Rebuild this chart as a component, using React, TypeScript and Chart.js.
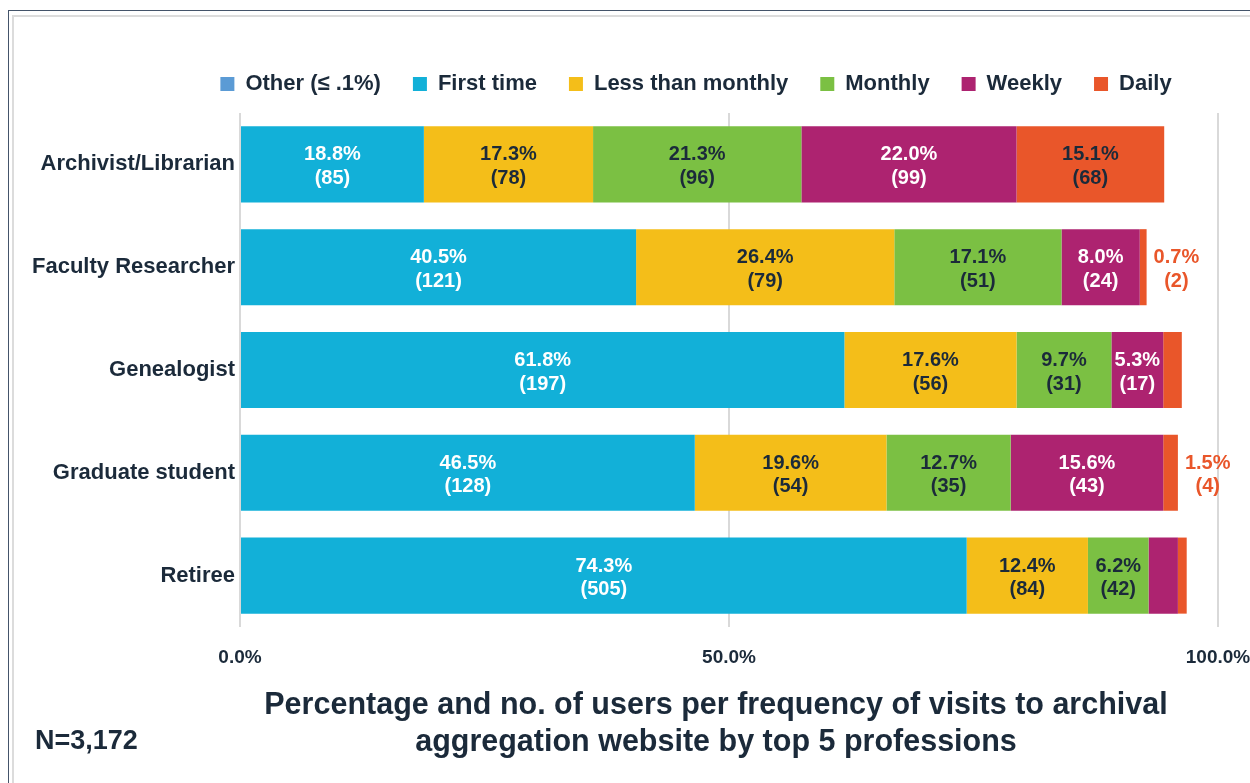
import React, { useEffect, useRef } from 'react';
import { Chart, registerables } from 'chart.js';

Chart.register(...registerables);

const professions = ['Archivist/Librarian', 'Faculty Researcher', 'Genealogist', 'Graduate student', 'Retiree'];
const seriesNames = ['Other (≤ .1%)', 'First time', 'Less than monthly', 'Monthly', 'Weekly', 'Daily'];

// Percentages
const otherPct = [0, 0, 0, 0, 0];
const firstTimePct = [18.8, 40.5, 61.8, 46.5, 74.3];
const lessMonthlyPct = [17.3, 26.4, 17.6, 19.6, 12.4];
const monthlyPct = [21.3, 17.1, 9.7, 12.7, 6.2];
const weeklyPct = [22.0, 8.0, 5.3, 15.6, 3.0];
const dailyPct = [15.1, 0.7, 1.9, 1.5, 0.9];

// Counts (null = no label shown in the reference)
const firstTimeN = [85, 121, 197, 128, 505];
const lessMonthlyN = [78, 79, 56, 54, 84];
const monthlyN = [96, 51, 31, 35, 42];
const weeklyN: (number | null)[] = [99, 24, 17, 43, null];
const dailyN: (number | null)[] = [68, 2, null, 4, null];

const xTicks = [0, 50, 100];

const seriesColors = ['#5B9BD5', '#12B0D8', '#F4BE19', '#7BC043', '#AD2370', '#E9562A'];
const insideLabelColors = ['#1B2A3A', '#FFFFFF', '#1B2A3A', '#1B2A3A', '#FFFFFF', '#1B2A3A'];
const outsideLabelColor = '#E9562A';
const textColor = '#1B2A3A';
const FONT = '"Liberation Sans", Arial, Helvetica, sans-serif';

const seriesValues = [otherPct, firstTimePct, lessMonthlyPct, monthlyPct, weeklyPct, dailyPct];
const seriesCounts: ((number | null)[] | null)[] = [null, firstTimeN, lessMonthlyN, monthlyN, weeklyN, dailyN];

const legendSpacing = {
  id: 'legendSpacing',
  beforeInit(chart: any) {
    if (!chart.legend) return;
    const origFit = chart.legend.fit;
    chart.legend.fit = function () {
      origFit.call(this);
      this.height += 8;
    };
  },
};

const segmentLabels = {
  id: 'segmentLabels',
  afterDatasetsDraw(chart: any) {
    const ctx = chart.ctx;
    ctx.save();
    ctx.font = `bold 20px ${FONT}`;
    ctx.textBaseline = 'middle';
    ctx.textAlign = 'center';
    chart.data.datasets.forEach((ds: any, di: number) => {
      const counts = seriesCounts[di];
      if (!counts) return;
      const meta = chart.getDatasetMeta(di);
      meta.data.forEach((el: any, i: number) => {
        const n = counts[i];
        if (n == null) return;
        const v = ds.data[i] as number;
        const { x, y, base } = el.getProps(['x', 'y', 'base'], true);
        const l1 = v.toFixed(1) + '%';
        const l2 = `(${n})`;
        const w = Math.abs(x - base);
        let cx: number;
        if (w < 30) {
          cx = x + 7 + ctx.measureText(l1).width / 2;
          ctx.fillStyle = outsideLabelColor;
        } else {
          cx = (x + base) / 2;
          ctx.fillStyle = insideLabelColors[di];
        }
        ctx.fillText(l1, cx, y - 9.5);
        ctx.fillText(l2, cx, y + 14);
      });
    });
    ctx.restore();
  },
};

export default function App() {
  const canvasRef = useRef<HTMLCanvasElement | null>(null);

  useEffect(() => {
    if (!canvasRef.current) return;
    Chart.defaults.font.family = FONT;
    const chart = new Chart(canvasRef.current, {
      type: 'bar',
      data: {
        labels: professions,
        datasets: seriesNames.map((name, i) => ({
          label: name,
          data: seriesValues[i],
          backgroundColor: seriesColors[i],
          borderWidth: 0,
          barPercentage: 0.74,
          categoryPercentage: 1,
        })),
      },
      options: {
        indexAxis: 'y',
        responsive: false,
        animation: false,
        layout: { padding: { left: 174, right: 32, top: 41, bottom: 106 } },
        plugins: {
          tooltip: { enabled: false },
          title: { display: false },
          legend: {
            display: true,
            position: 'top',
            labels: {
              boxWidth: 14,
              boxHeight: 14,
              padding: 32,
              color: textColor,
              font: { size: 22, weight: 'bold', family: FONT },
            },
          },
        },
        scales: {
          x: {
            stacked: true,
            min: 0,
            max: 100,
            afterBuildTicks: (s: any) => {
              s.ticks = xTicks.map((v) => ({ value: v }));
            },
            afterFit: (s: any) => {
              s.height = 50;
              s.paddingLeft = 0;
              s.paddingRight = 0;
            },
            grid: { display: true, color: '#D9D9D9', lineWidth: 2, drawTicks: false },
            border: { display: false },
            ticks: {
              padding: 19,
              color: textColor,
              font: { size: 19, weight: 'bold', family: FONT },
              callback: (v: any) => Number(v).toFixed(1) + '%',
              maxRotation: 0,
            },
          },
          y: {
            stacked: true,
            afterFit: (s: any) => {
              s.width = 66;
              // let the category labels extend past the narrow axis box
              s._computeLabelArea = () => undefined;
            },
            grid: { display: false, drawTicks: false },
            border: { display: false },
            ticks: {
              padding: 5,
              color: textColor,
              font: { size: 22, weight: 'bold', family: FONT },
            },
          },
        },
      },
      plugins: [legendSpacing, segmentLabels],
    } as any);
    return () => chart.destroy();
  }, []);

  return (
    <div
      style={{
        position: 'fixed',
        left: 0,
        top: 0,
        width: 1250,
        height: 783,
        overflow: 'hidden',
        background: '#fff',
        fontFamily: FONT,
      }}
    >
      <div
        style={{
          position: 'absolute',
          left: 8,
          top: 10,
          width: 1400,
          height: 900,
          border: '1px solid #44546A',
          boxSizing: 'border-box',
        }}
      />
      <div
        style={{
          position: 'absolute',
          left: 12,
          top: 15,
          width: 1400,
          height: 900,
          border: '2px solid #DCDCDC',
          boxSizing: 'border-box',
        }}
      />
      <canvas
        ref={canvasRef}
        width={1250}
        height={783}
        style={{ position: 'absolute', left: 0, top: 0, width: 1250, height: 783 }}
      />
      <div
        style={{
          position: 'absolute',
          left: 216,
          top: 685,
          width: 1000,
          textAlign: 'center',
          fontSize: 30.5,
          fontWeight: 'bold',
          lineHeight: '37px',
          color: textColor,
        }}
      >
        Percentage and no. of users per frequency of visits to archival
        <br />
        aggregation website by top 5 professions
      </div>
      <div
        style={{
          position: 'absolute',
          left: 35,
          top: 727,
          fontSize: 27,
          fontWeight: 'bold',
          lineHeight: 1,
          color: textColor,
          whiteSpace: 'nowrap',
        }}
      >
        N=3,172
      </div>
    </div>
  );
}
